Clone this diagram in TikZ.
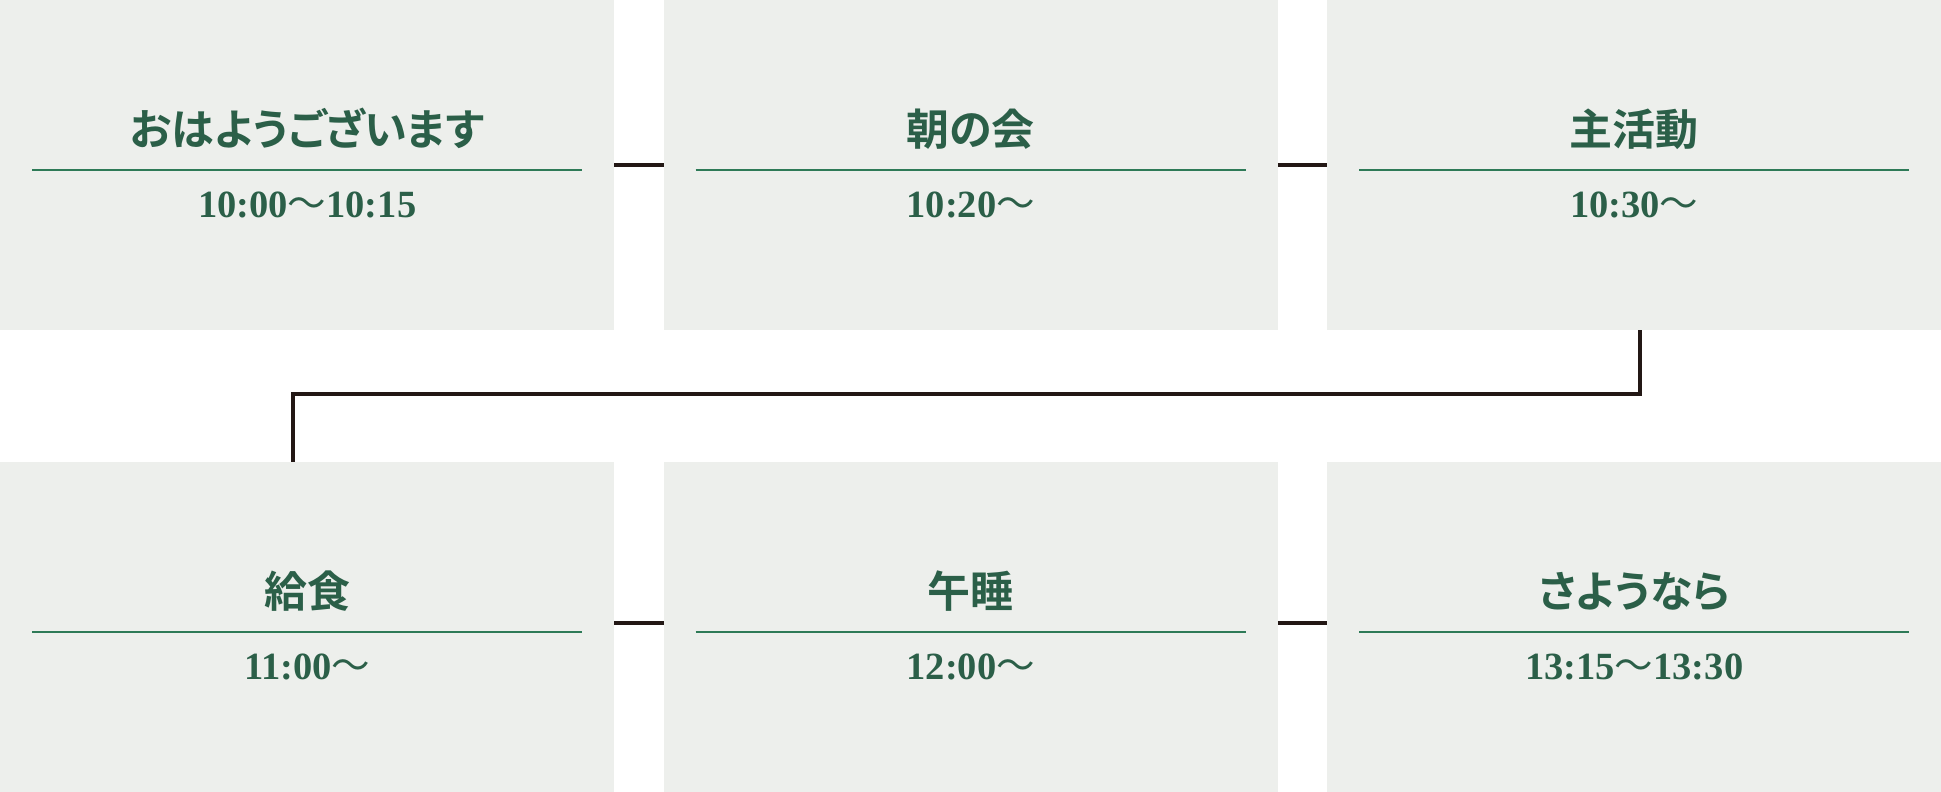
\documentclass[tikz,border=0pt]{standalone}
\usepackage{fontspec}
\newfontfamily\jpfont[RawFeature=+palt]{Noto Sans CJK JP Bold}
\newfontfamily\jpwave{Noto Sans CJK JP}
\newfontfamily\numfont{Liberation Serif}
\definecolor{boxbg}{HTML}{EDEFEC}
\definecolor{txtgreen}{HTML}{2B5F48}
\definecolor{rulegreen}{HTML}{2E7A57}
\definecolor{connc}{HTML}{231815}
\newcommand{\wv}{{\jpwave\mdseries 〜}}
\tikzset{
  stepbox/.style={fill=boxbg, draw=none, minimum width=614pt, minimum height=330pt, inner sep=0pt, anchor=north west},
  titletxt/.style={anchor=base, inner sep=0pt, text=txtgreen, font=\jpfont\fontsize{43}{50}\selectfont},
  timetxt/.style={anchor=base, inner sep=0pt, text=txtgreen, font=\numfont\bfseries\fontsize{38.5}{44}\selectfont},
  greenrule/.style={draw=rulegreen, line width=1.8pt},
  conn/.style={draw=connc, line width=4pt}
}
\begin{document}
\begin{tikzpicture}[x=1pt,y=-1pt]
\useasboundingbox (0,0) rectangle (1941,792);
\node[stepbox] (b1) at (0,0) {};
\node[stepbox] (b2) at (663.5,0) {};
\node[stepbox] (b3) at (1327,0) {};
\node[stepbox] (b4) at (0,462) {};
\node[stepbox] (b5) at (663.5,462) {};
\node[stepbox] (b6) at (1327,462) {};
% rules
\foreach \b in {b1,b2,b3,b4,b5,b6}{
  \draw[greenrule] ([xshift=32pt,yshift=-170pt]\b.north west) -- ([xshift=-32pt,yshift=-170pt]\b.north east);
}
% titles
\node[titletxt] (t1) at ([yshift=-145pt]b1.north) {おはようございます};
\node[titletxt] (t2) at ([yshift=-145pt]b2.north) {朝の会};
\node[titletxt] (t3) at ([yshift=-145pt]b3.north) {主活動};
\node[titletxt] (t4) at ([yshift=-145pt]b4.north) {給食};
\node[titletxt] (t5) at ([yshift=-145pt]b5.north) {午睡};
\node[titletxt] (t6) at ([yshift=-145pt]b6.north) {さようなら};
% times
\node[timetxt] (m1) at ([yshift=-217pt]b1.north) {10:00\wv10:15};
\node[timetxt] (m2) at ([yshift=-217pt]b2.north) {10:20\wv};
\node[timetxt] (m3) at ([yshift=-217pt]b3.north) {10:30\wv};
\node[timetxt] (m4) at ([yshift=-217pt]b4.north) {11:00\wv};
\node[timetxt] (m5) at ([yshift=-217pt]b5.north) {12:00\wv};
\node[timetxt] (m6) at ([yshift=-217pt]b6.north) {13:15\wv13:30};
% connectors
\draw[conn] (b1.east) -- (b2.west);
\draw[conn] (b2.east) -- (b3.west);
\draw[conn] ([yshift=4pt]b4.east) -- ([yshift=4pt]b5.west);
\draw[conn] ([yshift=4pt]b5.east) -- ([yshift=4pt]b6.west);
\draw[conn] ([xshift=6pt]b3.south) -- ++(0,64) -| ([xshift=-14pt]b4.north);
\end{tikzpicture}
\end{document}
